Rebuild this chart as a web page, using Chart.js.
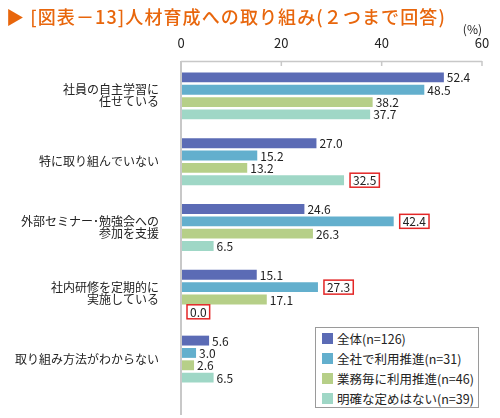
<!DOCTYPE html>
<html lang="ja">
<head>
  <meta charset="UTF-8">
  <title>人材育成への取り組み</title>
  <script src="https://cdn.jsdelivr.net/npm/chart.js"></script>
  <style>
    body { margin: 0; background: #fff; font-family: "Noto Sans CJK JP", sans-serif; }
    #wrap { position: relative; width: 500px; height: 418px; }
    #title { position: absolute; left: 6px; top: 3px; font-size: 18px; font-weight: 500; color: #e8660c;
             white-space: nowrap; letter-spacing: 1.1px; }
    #legend { position: absolute; left: 315px; top: 327px; width: 164px; height: 81px; box-sizing: border-box;
              border: 1px solid #9a9a9a; background: #fff; }
    .item { display: flex; align-items: center; height: 20px; font-size: 12.5px; color: #222; white-space: nowrap; }
    .sw { width: 11px; height: 11px; margin: 0 4px 0 6px; flex: none; }
  </style>
</head>
<body>
  <div id="wrap">
    <canvas id="chart" width="500" height="418"></canvas>
    <div id="title">▶ [図表－13]人材育成への取り組み(２つまで回答)</div>
    <div id="legend"></div>
  </div>

  <script>
    const categories = [
      ['社員の自主学習に', '任せている'],
      '特に取り組んでいない',
      ['外部セミナー･勉強会への', '参加を支援'],
      ['社内研修を定期的に', '実施している'],
      '取り組み方法がわからない'
    ];
    const seriesNames = ['全体(n=126)', '全社で利用推進(n=31)', '業務毎に利用推進(n=46)', '明確な定めはない(n=39)'];
    const zentai = [52.4, 27.0, 24.6, 15.1, 5.6];
    const zensha = [48.5, 15.2, 42.4, 27.3, 3.0];
    const gyomu = [38.2, 13.2, 26.3, 17.1, 2.6];
    const meikaku = [37.7, 32.5, 6.5, 0.0, 6.5];
    const colors = ['#5b6bb5', '#63afcd', '#b6cf88', '#9fd7c6'];
    // [series index, category index] of values drawn in a red box
    const boxed = [[3, 1], [1, 2], [1, 3], [3, 3]];
    const xTicks = [0, 20, 40, 60];

    const FONT = '"Noto Sans CJK JP", sans-serif';
    const seriesData = [zentai, zensha, gyomu, meikaku];

    const legend = document.getElementById('legend');
    seriesNames.forEach((name, i) => {
      const row = document.createElement('div');
      row.className = 'item';
      row.innerHTML = '<span class="sw" style="background:' + colors[i] + '"></span><span>' + name + '</span>';
      legend.appendChild(row);
    });

    const axisPlugin = {
      id: 'axisLines',
      afterDraw(chart) {
        const ctx = chart.ctx;
        const area = chart.chartArea;
        const xs = chart.scales.x;
        ctx.save();
        ctx.strokeStyle = '#c8c8c8';
        ctx.lineWidth = 1.5;
        ctx.beginPath();
        ctx.moveTo(area.left, area.top - 1.5);
        ctx.lineTo(xs.getPixelForValue(xTicks[xTicks.length - 1]), area.top - 1.5);
        xTicks.slice(1).forEach(v => {
          const px = xs.getPixelForValue(v);
          ctx.moveTo(px, area.top - 2);
          ctx.lineTo(px, area.top + 3);
        });
        ctx.stroke();
        ctx.lineWidth = 2;
        ctx.beginPath();
        ctx.moveTo(area.left, area.top - 2);
        ctx.lineTo(area.left, 415);
        ctx.stroke();
        ctx.restore();
      }
    };

    const valuePlugin = {
      id: 'values',
      afterDatasetsDraw(chart) {
        const ctx = chart.ctx;
        ctx.save();
        ctx.font = '12px ' + FONT;
        ctx.textBaseline = 'middle';
        ctx.textAlign = 'left';
        chart.data.datasets.forEach((ds, si) => {
          chart.getDatasetMeta(si).data.forEach((bar, ci) => {
            const txt = ds.data[ci].toFixed(1);
            const isBoxed = boxed.some(b => b[0] === si && b[1] === ci);
            ctx.fillStyle = '#222';
            if (isBoxed) {
              const w = ctx.measureText(txt).width;
              ctx.strokeStyle = '#e32626';
              ctx.lineWidth = 1.5;
              ctx.strokeRect(bar.x + 6, bar.y - 7, w + 6, 14);
              ctx.fillText(txt, bar.x + 9, bar.y + 0.5);
            } else {
              ctx.fillText(txt, bar.x + 3, bar.y + 0.5);
            }
          });
        });
        ctx.restore();
      }
    };

    new Chart(document.getElementById('chart'), {
      type: 'bar',
      data: {
        labels: categories,
        datasets: seriesData.map((d, i) => ({
          label: seriesNames[i],
          data: d,
          backgroundColor: colors[i],
          borderWidth: 0,
          categoryPercentage: 0.75,
          barPercentage: 0.8
        }))
      },
      options: {
        indexAxis: 'y',
        responsive: false,
        animation: false,
        layout: { padding: { left: 0, right: 18, top: 0, bottom: 24 } },
        plugins: { legend: { display: false }, tooltip: { enabled: false } },
        scales: {
          x: {
            position: 'top',
            min: 0,
            max: 60,
            afterBuildTicks(scale) { scale.ticks = xTicks.map(v => ({ value: v })); },
            afterFit(scale) { scale.height = 63; },
            ticks: { font: { family: FONT, size: 13 }, color: '#222', padding: 4 },
            grid: { display: false },
            border: { display: false },
            title: { display: true, text: '(%)', align: 'end', color: '#222',
                     font: { family: FONT, size: 12 }, padding: { top: 22, bottom: 0 } }
          },
          y: {
            afterFit(scale) { scale.width = 181; },
            ticks: { font: { family: FONT, size: 12, lineHeight: 1.0 }, color: '#222', padding: 14 },
            grid: { display: false },
            border: { display: false }
          }
        }
      },
      plugins: [axisPlugin, valuePlugin]
    });
  </script>
</body>
</html>
